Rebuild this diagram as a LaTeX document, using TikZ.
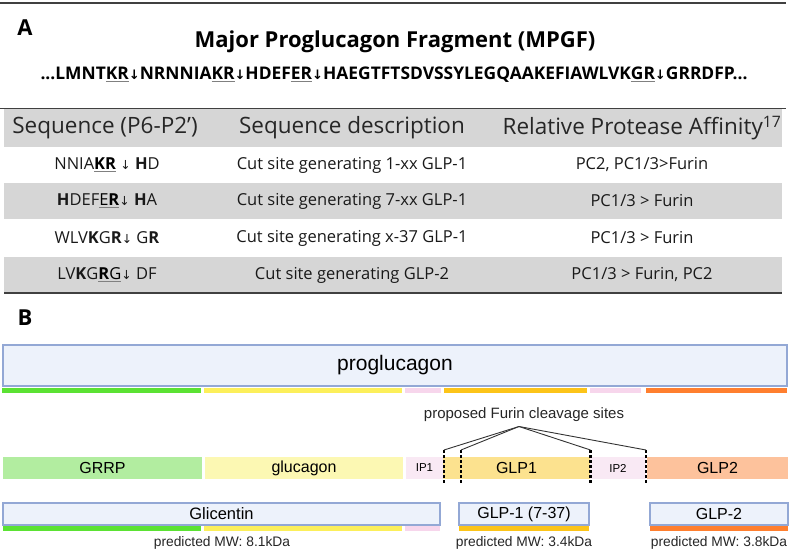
\documentclass[tikz,border=0pt]{standalone}
\usepackage{fontspec}
\setmainfont{Open Sans}
\newfontfamily\figfont{Liberation Sans}
\newfontfamily\arrowfont{DejaVu Sans}
\usetikzlibrary{positioning}

\definecolor{rowgray}{HTML}{D6D6D6}
\definecolor{rulegray}{HTML}{404040}
\definecolor{boxfill}{HTML}{EDF2FB}
\definecolor{boxedge}{HTML}{93A8D5}
\definecolor{bargreen}{HTML}{5BE233}
\definecolor{baryellow}{HTML}{FCEF5A}
\definecolor{barpink}{HTML}{F7D6EC}
\definecolor{bargold}{HTML}{FCC419}
\definecolor{barorange}{HTML}{FF7F2F}
\definecolor{grrpfill}{HTML}{B2EDA0}
\definecolor{glucfill}{HTML}{FCF8B3}
\definecolor{ipfill}{HTML}{F9E9F4}
\definecolor{glpafill}{HTML}{FCE28F}
\definecolor{glpbfill}{HTML}{FDC29C}

% grey underline, black letters
\newcommand{\cutul}[1]{{\color{gray}\underline{\color{black}#1}}}
\newcommand{\dnarr}{{\arrowfont\scalebox{0.75}{↓}}}
\newcommand{\fs}[1]{\fontsize{#1}{#1}\selectfont}

\tikzset{
  panlab/.style={font=\bfseries\fs{22}, inner sep=0pt},
  headtxt/.style={font=\fs{22.5}, inner sep=0pt, text=black!85},
  celltxt/.style={font=\fs{16.5}, inner sep=0pt, text=black!90},
  protbox/.style={draw=boxedge, fill=boxfill, line width=1.5pt, inner sep=0pt},
  segbox/.style={inner sep=0pt, minimum height=22pt, font=\figfont\fs{16}},
  mwtxt/.style={font=\figfont\fs{13.8}, inner sep=0pt, text=black!85},
  cutline/.style={line width=2.5pt, dash pattern=on 2.5pt off 2.5pt},
  furinline/.style={black!80, line width=0.9pt}
}

\begin{document}
\begin{tikzpicture}[x=1pt,y=-1pt]
    \useasboundingbox (0,0) rectangle (790,553);

    % Panel A - sequence
    \draw[rulegray, line width=1.5pt] (0,3) -- (786,3);
    \node[panlab] (labA) at (25,28) {A};
    \node[font=\bfseries\fs{22}, inner sep=0pt] (title) at (395,42) {Major Proglucagon Fragment (MPGF)};
    \node[font=\bfseries\fs{17.4}, inner sep=0pt] (seq) at (394,75)
        {...LMNT\cutul{KR}\dnarr NRNNIA\cutul{KR}\dnarr HDEF\cutul{ER}\dnarr HAEGTFTSDVSSYLEGQAAKEFIAWLVK\cutul{GR}\dnarr GRRDFP...};

    % Panel A - table
    \fill[rowgray] (4,109) rectangle (782,147);
    \foreach \y in {183,257} {
        \fill[rowgray] (4,\y) rectangle (782,\y+36);
    }
    \draw[rulegray, line width=1.5pt] (0,108.5) -- (786,108.5);
    \draw[rulegray, line width=1.5pt] (4,293) -- (782,293);

    \node[headtxt] (hdseq) at (105,128) {Sequence (P6-P2’)};
    \node[headtxt] (hddesc) at (352,128) {Sequence description};
    \node[headtxt] (hdaff) at (642,128) {Relative Protease Affinity\textsuperscript{17}};

    \node[celltxt] (seqa) at (107,165) {NNIA\cutul{\textbf{KR}} \dnarr{} \textbf{H}D};
    \node[celltxt] (seqb) at (107,201) {\textbf{H}DEF\cutul{E\textbf{R}}\dnarr{} \textbf{H}A};
    \node[celltxt] (seqc) at (107,238) {WLV\textbf{K}G\textbf{R}\dnarr{} G\textbf{R}};
    \node[celltxt] (seqd) at (107,275) {LV\textbf{K}G\cutul{\textbf{R}G}\dnarr{} DF};

    \node[celltxt] (desca) at (352,165) {Cut site generating 1-xx GLP-1};
    \node[celltxt] (descb) at (352,201) {Cut site generating 7-xx GLP-1};
    \node[celltxt] (descc) at (352,238) {Cut site generating x-37 GLP-1};
    \node[celltxt] (descd) at (352,275) {Cut site generating GLP-2};

    \node[celltxt] (affa) at (642,165) {PC2, PC1/3>Furin};
    \node[celltxt] (affb) at (642,201) {PC1/3 > Furin};
    \node[celltxt] (affc) at (642,238) {PC1/3 > Furin};
    \node[celltxt] (affd) at (642,275) {PC1/3 > Furin, PC2};

    % Panel B - proglucagon
    \node[panlab] (labB) at (25,318) {B};
    \node[protbox, minimum width=784pt, minimum height=41pt, font=\figfont\fs{21}] (proglu) at (395,365.5) {proglucagon};
    \foreach \a/\b/\c in {2/201/bargreen, 204/402/baryellow, 405/441/barpink,
                          444/587/bargold, 590/641/barpink, 646/787/barorange} {
        \fill[\c] (\a,387.5) rectangle (\b,393);
    }

    % Panel B - domains
    \node[segbox, fill=grrpfill, minimum width=199pt] (grrp) at (102.5,468) {GRRP};
    \node[segbox, fill=glucfill, minimum width=198pt] (gluc) at (304,468) {glucagon};
    \node[segbox, fill=ipfill, minimum width=37pt, font=\figfont\fs{11.5}] (ipa) at (424.5,468) {IP1};
    \node[segbox, fill=glpafill, minimum width=147pt] (glpa) at (516.5,468) {GLP1};
    \node[segbox, fill=ipfill, minimum width=56pt, font=\figfont\fs{11.5}] (ipb) at (618,468) {IP2};
    \node[segbox, fill=glpbfill, minimum width=141pt] (glpb) at (717.5,468) {GLP2};

    % Furin sites
    \node[font=\figfont\fs{15}, inner sep=0pt, text=black!85] (furin) at (524,415) {proposed Furin cleavage sites};
    \coordinate (apex) at (519,426.5);
    \foreach \x [count=\i] in {444,461,590.5,646} {
        \coordinate (cut\i) at (\x,450);
        \draw[cutline] (cut\i) -- ++(0,33);
        \draw[furinline] (apex) -- (cut\i);
    }

    % Panel B - products
    \node[protbox, minimum width=437pt, minimum height=22pt, font=\figfont\fs{16.5}] (glic) at (221.5,514) {Glicentin};
    \foreach \a/\b/\c in {3/201/bargreen, 204/402/baryellow, 405/440/barpink} {
        \fill[\c] (\a,526) rectangle (\b,531);
    }
    \node[mwtxt] (mwglic) at (222,543) {predicted MW: 8.1kDa};

    \node[protbox, minimum width=130pt, minimum height=22pt, font=\figfont\fs{16}] (glpone) at (524,514) {GLP-1 (7-37)};
    \fill[bargold] (459,526) rectangle (589,531);
    \node[mwtxt] (mwglpone) at (524,543) {predicted MW: 3.4kDa};

    \node[protbox, minimum width=138pt, minimum height=22pt, font=\figfont\fs{16}] (glptwo) at (719,514) {GLP-2};
    \fill[barorange] (650,526) rectangle (788,531);
    \node[mwtxt] (mwglptwo) at (719,543) {predicted MW: 3.8kDa};
\end{tikzpicture}
\end{document}
